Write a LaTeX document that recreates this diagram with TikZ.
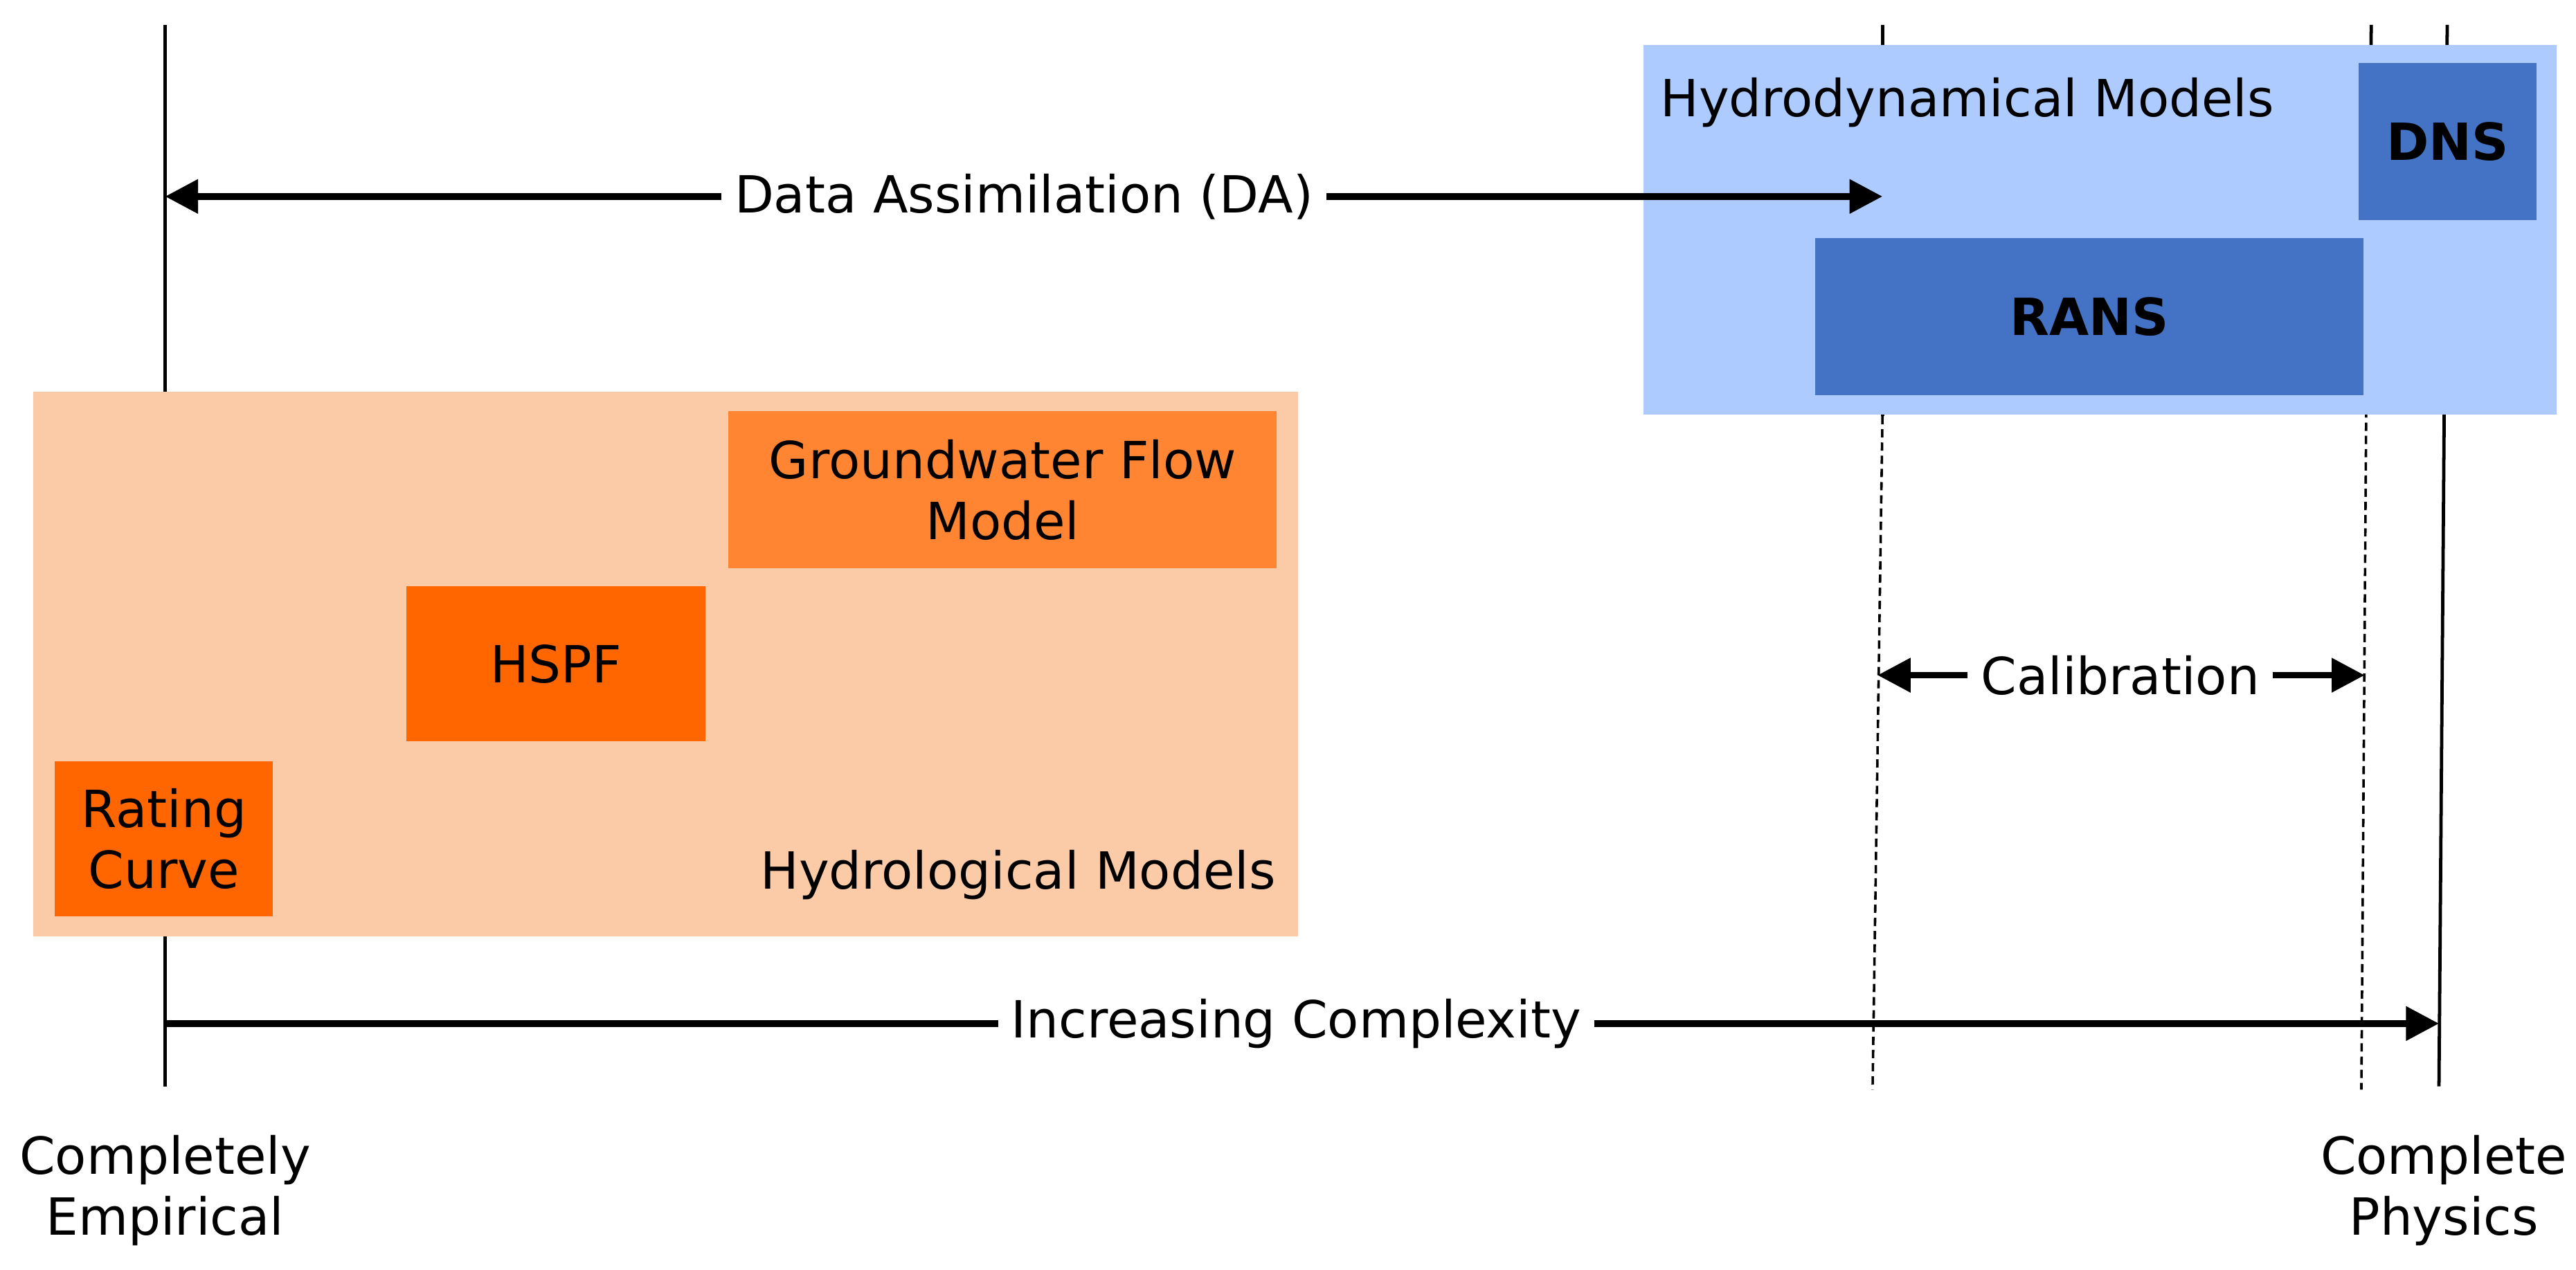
\documentclass[tikz,border=0pt]{standalone}
\usepackage{fontspec}
\setmainfont{DejaVu Sans}
\usetikzlibrary{arrows.meta}
\begin{document}
\begin{tikzpicture}[x=1pt,y=-1pt,
  lbl/.style={font=\fontsize{31}{37}\selectfont},
  box/.style={draw=none,inner sep=0pt,align=center,font=\fontsize{31}{37}\selectfont},
  ln/.style={line width=2pt},
  dln/.style={line width=1.5pt,dash pattern=on 5pt off 3pt},
  arr/.style={line width=4pt,{Triangle[length=20pt,width=20pt]}-{Triangle[length=20pt,width=20pt]}},
  arr1/.style={line width=4pt,-{Triangle[length=20pt,width=20pt]}},
  wlab/.style={fill=white,inner sep=8pt,font=\fontsize{31}{37}\selectfont}]
\useasboundingbox (0,0) rectangle (1560,769);
\definecolor{lblue}{HTML}{ADCBFF}
\definecolor{dblue}{HTML}{4472C4}
\definecolor{lorange}{HTML}{FBCBA7}
\definecolor{morange}{HTML}{FF8533}
\definecolor{dorange}{HTML}{FF6600}
% vertical lines
\coordinate (l1t) at (100,15); \coordinate (l1b) at (100,658);
\draw[ln] (l1t) -- (l1b);
\coordinate (l2t) at (1140,15); \coordinate (l2m) at (1140,252); \coordinate (l2b) at (1134,660);
\draw[ln] (l2t) -- (l2m);
\draw[dln] (l2m) -- (l2b);
\coordinate (l3t) at (1436,15); \coordinate (l3m) at (1433,240); \coordinate (l3b) at (1430,660);
\draw[ln] (l3t) -- (l3m);
\draw[dln] (l3m) -- (l3b);
\coordinate (l4t) at (1482,15); \coordinate (l4b) at (1477,658);
\draw[ln] (l4t) -- (l4b);
% hydrodynamical
\node[box,fill=lblue,minimum width=553pt,minimum height=224pt,anchor=north west] (hydro) at (995,27) {};
\node[lbl,anchor=west] (hydrot) at (1002,62) {Hydrodynamical Models};
\node[box,fill=dblue,minimum width=108pt,minimum height=95pt,anchor=north west,font=\fontsize{31}{37}\selectfont\bfseries] (dns) at (1428,38) {DNS};
\node[box,fill=dblue,minimum width=332pt,minimum height=95pt,anchor=north west,font=\fontsize{31}{37}\selectfont\bfseries] (rans) at (1099,144) {RANS};
% hydrological
\node[box,fill=lorange,minimum width=766pt,minimum height=330pt,anchor=north west] (hydrol) at (20,237) {};
\node[lbl,anchor=east] (hydrolt) at (776,530) {Hydrological Models};
\node[box,fill=morange,minimum width=332pt,minimum height=95pt,anchor=north west] (gw) at (441,249) {Groundwater Flow\\Model};
\node[box,fill=dorange,minimum width=181pt,minimum height=94pt,anchor=north west] (hspf) at (246,355) {HSPF};
\node[box,fill=dorange,minimum width=132pt,minimum height=94pt,anchor=north west] (rc) at (33,461) {Rating\\Curve};
% arrows
\coordinate (daL) at (100,119); \coordinate (daR) at (1140,119);
\draw[arr] (daL) -- (daR);
\node[wlab] (dal) at (620,119) {Data Assimilation (DA)};
\coordinate (caL) at (1137,409); \coordinate (caR) at (1432,409);
\draw[arr] (caL) -- (caR);
\node[wlab] (cal) at (1284,409) {Calibration};
\coordinate (icL) at (100,620); \coordinate (icR) at (1477,620);
\draw[arr1] (icL) -- (icR);
\node[wlab] (icl) at (785,620) {Increasing Complexity};
% bottom labels
\node[lbl,align=center] (ce) at (100,721) {Completely\\Empirical};
\node[lbl,align=center] (cp) at (1480,721) {Complete\\Physics};
\end{tikzpicture}
\end{document}
